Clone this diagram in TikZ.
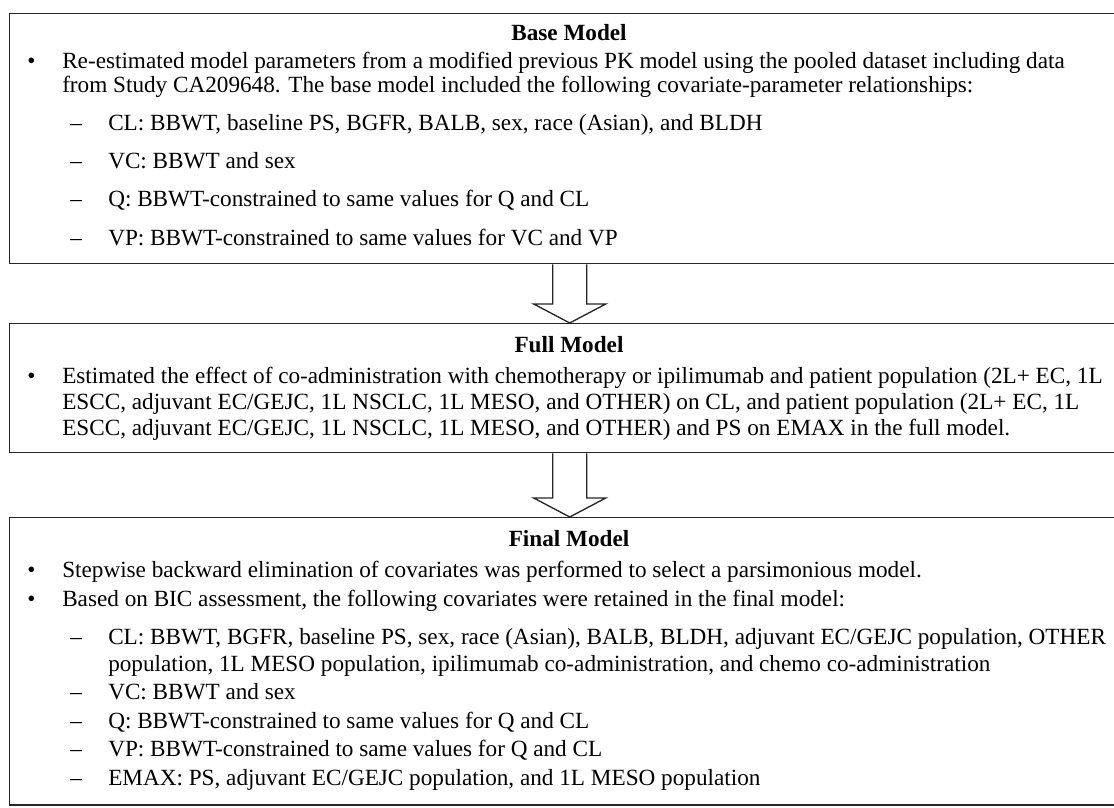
\documentclass[tikz,border=0pt]{standalone}
\usepackage{fontspec}
\setmainfont{Liberation Serif}
\usetikzlibrary{calc}
\begin{document}
\begin{tikzpicture}[x=0.75pt,y=-0.75pt,
  box/.style={draw=black!85, line width=1.1pt, inner sep=0pt, anchor=north west},
  txt/.style={anchor=base west, inner sep=0pt, font=\fontsize{17.4}{20}\selectfont},
  ttl/.style={anchor=base, inner sep=0pt, font=\fontsize{17.4}{20}\selectfont\bfseries},
  blockarrow/.style={draw=black!85, line width=1pt, line join=miter}]
\useasboundingbox (0,0) rectangle (1114,807);
\clip (0,0) rectangle (1114,807);
% boxes
\node[box, minimum width=840pt, minimum height=187.5pt] (base) at (9,13) {};
\node[box, minimum width=840pt, minimum height=96.75pt] (full) at (9,323) {};
\node[box, minimum width=840pt, minimum height=215.6pt] (final) at (9,517) {};
% arrows
\draw[blockarrow] ($(base.south)+(-17,0)$) -- ($(full.north)+(-17,-19)$) -- ($(full.north)+(-36,-19)$) -- (full.north) -- ($(full.north)+(36,-19)$) -- ($(full.north)+(17,-19)$) -- ($(base.south)+(17,0)$);
\draw[blockarrow] ($(full.south)+(-17,0)$) -- ($(final.north)+(-17,-19)$) -- ($(final.north)+(-36,-19)$) -- (final.north) -- ($(final.north)+(36,-19)$) -- ($(final.north)+(17,-19)$) -- ($(full.south)+(17,0)$);
% Base model
\node[ttl] (t1) at (569,40) {Base Model};
\node[txt] (b1a) at (27,68) {\textbullet};
\node[txt] (l1a) at (62,68) {Re-estimated model parameters from a modified previous PK model using the pooled dataset including data};
\node[txt] (l1b) at (62,92) {from Study CA209648. The base model included the following covariate-parameter relationships:};
\node[txt] (d1a) at (70,130) {–};
\node[txt] (s1a) at (108,130) {CL: BBWT, baseline PS, BGFR, BALB, sex, race (Asian), and BLDH};
\node[txt] (d1b) at (70,168) {–};
\node[txt] (s1b) at (108,168) {VC: BBWT and sex};
\node[txt] (d1c) at (70,206) {–};
\node[txt] (s1c) at (108,206) {Q: BBWT-constrained to same values for Q and CL};
\node[txt] (d1d) at (70,245) {–};
\node[txt] (s1d) at (108,245) {VP: BBWT-constrained to same values for VC and VP};
% Full model
\node[ttl] (t2) at (569,352) {Full Model};
\node[txt] (b2a) at (27,383) {\textbullet};
\node[txt] (l2a) at (62,383) {Estimated the effect of co-administration with chemotherapy or ipilimumab and patient population (2L+ EC, 1L};
\node[txt] (l2b) at (62,409) {ESCC, adjuvant EC/GEJC, 1L NSCLC, 1L MESO, and OTHER) on CL, and patient population (2L+ EC, 1L};
\node[txt] (l2c) at (62,435) {ESCC, adjuvant EC/GEJC, 1L NSCLC, 1L MESO, and OTHER) and PS on EMAX in the full model.};
% Final model
\node[ttl] (t3) at (569,546) {Final Model};
\node[txt] (b3a) at (27,577) {\textbullet};
\node[txt] (l3a) at (62,577) {Stepwise backward elimination of covariates was performed to select a parsimonious model.};
\node[txt] (b3b) at (27,606) {\textbullet};
\node[txt] (l3b) at (62,606) {Based on BIC assessment, the following covariates were retained in the final model:};
\node[txt] (d3a) at (70,644) {–};
\node[txt] (s3a) at (108,644) {CL: BBWT, BGFR, baseline PS, sex, race (Asian), BALB, BLDH, adjuvant EC/GEJC population, OTHER};
\node[txt] (s3a2) at (108,671) {population, 1L MESO population, ipilimumab co-administration, and chemo co-administration};
\node[txt] (d3b) at (70,699) {–};
\node[txt] (s3b) at (108,699) {VC: BBWT and sex};
\node[txt] (d3c) at (70,728) {–};
\node[txt] (s3c) at (108,728) {Q: BBWT-constrained to same values for Q and CL};
\node[txt] (d3d) at (70,756) {–};
\node[txt] (s3d) at (108,756) {VP: BBWT-constrained to same values for Q and CL};
\node[txt] (d3e) at (70,785) {–};
\node[txt] (s3e) at (108,785) {EMAX: PS, adjuvant EC/GEJC population, and 1L MESO population};
\end{tikzpicture}
\end{document}
